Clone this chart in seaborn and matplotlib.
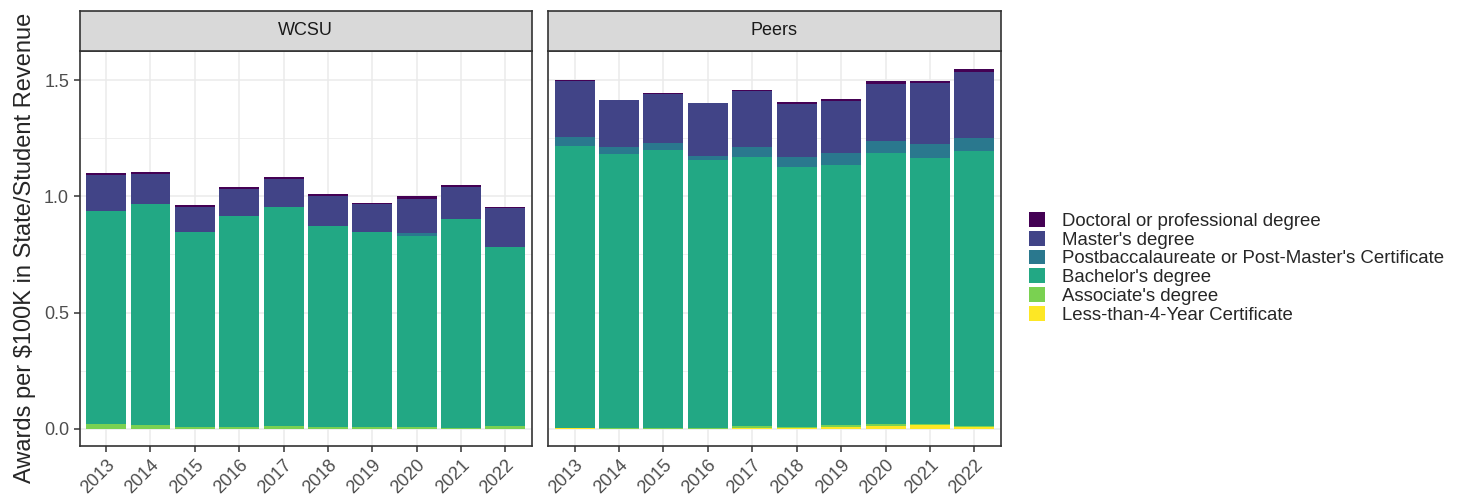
import pandas as pd
import matplotlib.pyplot as plt
import matplotlib.patches as mpatches
import seaborn as sns

years = [2013, 2014, 2015, 2016, 2017, 2018, 2019, 2020, 2021, 2022]
panels = ['WCSU', 'Peers']
awards = ['Doctoral or professional degree', "Master's degree",
          "Postbaccalaureate or Post-Master's Certificate", "Bachelor's degree",
          "Associate's degree", 'Less-than-4-Year Certificate']
colors = ['#440154', '#414487', '#2A788E', '#22A884', '#7AD151', '#FDE725']

# segment heights
wcsu_doct = [0.008, 0.005, 0.006, 0.009, 0.008, 0.009, 0.003, 0.016, 0.008, 0.008]
wcsu_mast = [0.155, 0.132, 0.109, 0.113, 0.122, 0.128, 0.122, 0.144, 0.140, 0.166]
wcsu_post = [0.000, 0.000, 0.000, 0.000, 0.000, 0.000, 0.000, 0.014, 0.000, 0.000]
wcsu_bach = [0.916, 0.949, 0.836, 0.907, 0.940, 0.862, 0.838, 0.819, 0.899, 0.769]
wcsu_asso = [0.021, 0.017, 0.010, 0.010, 0.013, 0.010, 0.007, 0.010, 0.003, 0.013]
wcsu_less = [0.000, 0.000, 0.000, 0.000, 0.000, 0.000, 0.000, 0.000, 0.000, 0.000]

peer_doct = [0.002, 0.002, 0.003, 0.002, 0.002, 0.009, 0.006, 0.013, 0.010, 0.014]
peer_mast = [0.239, 0.203, 0.212, 0.229, 0.242, 0.227, 0.226, 0.246, 0.262, 0.283]
peer_post = [0.039, 0.029, 0.028, 0.017, 0.041, 0.041, 0.049, 0.052, 0.059, 0.056]
peer_bach = [1.213, 1.179, 1.197, 1.152, 1.159, 1.117, 1.121, 1.165, 1.144, 1.181]
peer_asso = [0.002, 0.003, 0.003, 0.003, 0.006, 0.005, 0.007, 0.008, 0.004, 0.003]
peer_less = [0.003, 0.000, 0.000, 0.000, 0.005, 0.005, 0.008, 0.012, 0.017, 0.010]

rows = []
for inst, series in [('WCSU', [wcsu_doct, wcsu_mast, wcsu_post, wcsu_bach, wcsu_asso, wcsu_less]),
                     ('Peers', [peer_doct, peer_mast, peer_post, peer_bach, peer_asso, peer_less])]:
    for award, vals in zip(awards, series):
        for y, v in zip(years, vals):
            rows.append({'inst': inst, 'year': y, 'award': award, 'value': v})
df = pd.DataFrame(rows)

sns.set_style('white')
plt.rcParams['font.family'] = ['Liberation Sans', 'DejaVu Sans']

fig = plt.figure(figsize=(14.68, 4.96), dpi=100)
W, H = 1468, 496
boxes = [(79.5, 532), (548, 1001)]
top, bottom = 50.7, 446
strip_top = 10.7

axes = []
for i, (inst, (x0, x1)) in enumerate(zip(panels, boxes)):
    ax = fig.add_axes([x0 / W, (H - bottom) / H, (x1 - x0) / W, (bottom - top) / H])
    axes.append(ax)
    sub = df[df['inst'] == inst]
    sns.histplot(data=sub, x='year', weights='value', hue='award', hue_order=awards,
                 palette=colors, multiple='stack', discrete=True, shrink=0.9,
                 alpha=1, linewidth=0, legend=False, ax=ax)
    ax.set_xlim(2012.4, 2022.6)
    ax.set_ylim(-0.0735, 1.626)
    ax.set_xticks(years)
    ax.set_xticklabels([str(y) for y in years], rotation=45, ha='right',
                       rotation_mode='anchor', color='#4D4D4D', fontsize=13)
    ax.set_yticks([0, 0.5, 1.0, 1.5])
    ax.set_yticks([0.25, 0.75, 1.25], minor=True)
    ax.set_yticklabels(['0.0', '0.5', '1.0', '1.5'], color='#4D4D4D', fontsize=13)
    ax.grid(True, which='major', color='#EBEBEB', lw=1.1)
    ax.grid(True, which='minor', axis='y', color='#EBEBEB', lw=0.6)
    ax.set_axisbelow(True)
    ax.tick_params(axis='both', which='major', length=4, width=1.1, color='#333333',
                   bottom=True, left=(i == 0))
    ax.tick_params(axis='y', which='minor', length=0)
    if i > 0:
        ax.set_yticklabels([])
    for s in ax.spines.values():
        s.set_color('#333333')
        s.set_linewidth(1.2)
    ax.set_xlabel('')
    ax.set_ylabel('')
    # facet strip
    sax = fig.add_axes([x0 / W, (H - top) / H, (x1 - x0) / W, (top - strip_top) / H])
    sax.set_facecolor('#D9D9D9')
    sax.set_xticks([])
    sax.set_yticks([])
    for s in sax.spines.values():
        s.set_color('#333333')
        s.set_linewidth(1.2)
    sax.text(0.5, 0.5, inst, ha='center', va='center', fontsize=13, color='#1A1A1A',
             transform=sax.transAxes)

axes[0].set_ylabel('Awards per $100K in State/Student Revenue', fontsize=17, labelpad=6)

handles = [mpatches.Patch(facecolor=c, edgecolor='none', label=a) for a, c in zip(awards, colors)]
fig.legend(handles=handles, loc='center left', bbox_to_anchor=(1029 / W, 0.46),
           frameon=False, fontsize=13.4, handlelength=0.85, handleheight=0.85,
           handletextpad=0.9, labelspacing=0.05, borderaxespad=0, borderpad=0)

fig.savefig('out.png', dpi=100)
